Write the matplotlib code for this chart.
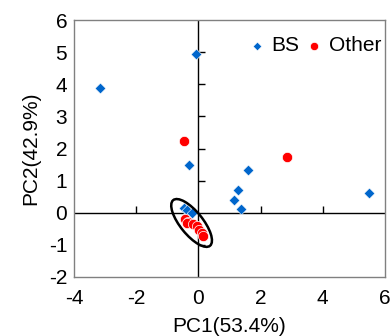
import matplotlib
matplotlib.use("Agg")
import matplotlib.pyplot as plt
from matplotlib.patches import Ellipse

plt.rcParams['font.family'] = ['Liberation Sans', 'DejaVu Sans']
plt.rcParams['axes.unicode_minus'] = False

# PCA scores
bs_x = [-3.16, -0.08, -0.30, 1.59, 1.27, 1.14, 1.37, 5.49, -0.48, -0.38, -0.22]
bs_y = [3.89, 4.95, 1.49, 1.33, 0.71, 0.40, 0.12, 0.62, 0.14, 0.07, -0.02]
other_x = [-0.46, 2.85, -0.43, -0.33, -0.38, -0.16, -0.05, 0.03, 0.11, 0.16]
other_y = [2.24, 1.74, -0.19, -0.28, -0.33, -0.36, -0.41, -0.54, -0.64, -0.74]

# confidence ellipse of the "Other" cluster
ell_center = (-0.22, -0.32)
ell_major = 1.85
ell_minor = 0.72
ell_angle = -50

x_ticks = [-4, -2, 0, 2, 4, 6]
y_ticks = [-2, -1, 0, 1, 2, 3, 4, 5, 6]

fig = plt.figure(figsize=(3.92, 3.36), dpi=100)
ax = fig.add_axes([0.189, 0.176, 0.793, 0.764])

ax.set_xlim(-4, 6)
ax.set_ylim(-2, 6)
ax.set_xticks(x_ticks)
ax.set_yticks(y_ticks)
ax.tick_params(length=0, labelsize=15)
ax.tick_params(axis="x", pad=9)
ax.tick_params(axis="y", pad=5)
for s in ax.spines.values():
    s.set_color("#808080")
    s.set_linewidth(1)

# axes crossing at zero, with small ticks like Excel
inner_x = [t for t in x_ticks if t not in (-4, 0, 6)]
inner_y = [t for t in y_ticks if t not in (-2, 0, 6)]
ax.axhline(0, color="black", lw=1, zorder=1)
ax.axvline(0, color="black", lw=1, zorder=1)
ax.plot(inner_x, [0] * len(inner_x), ls="none",
        marker=2, ms=5, mew=1, color="black", zorder=1)
ax.plot([0] * len(inner_y), inner_y, ls="none",
        marker=1, ms=5, mew=1, color="black", zorder=1)

ax.scatter(bs_x, bs_y, marker="D", s=30, color="#0066CC", edgecolors="white",
           linewidths=0.4, label="BS", zorder=3)
ax.scatter(other_x, other_y, marker="o", s=55, color="#FF0000", edgecolors="white",
           linewidths=0.5, label="Other", zorder=4)

ax.add_patch(Ellipse(ell_center, ell_major, ell_minor, angle=ell_angle,
                     fill=False, edgecolor="black", lw=1.8, zorder=5))

ax.set_xlabel("PC1(53.4%)", fontsize=15, labelpad=6)
ax.set_ylabel("PC2(42.9%)", fontsize=15, labelpad=6)

leg = ax.legend(loc="upper right", ncol=2, frameon=False, fontsize=15,
                handletextpad=0.4, columnspacing=0.4, borderaxespad=0.0,
                handlelength=0.6, markerscale=0.8,
                bbox_to_anchor=(1.015, 0.97))

fig.savefig("out.png", dpi=100)
